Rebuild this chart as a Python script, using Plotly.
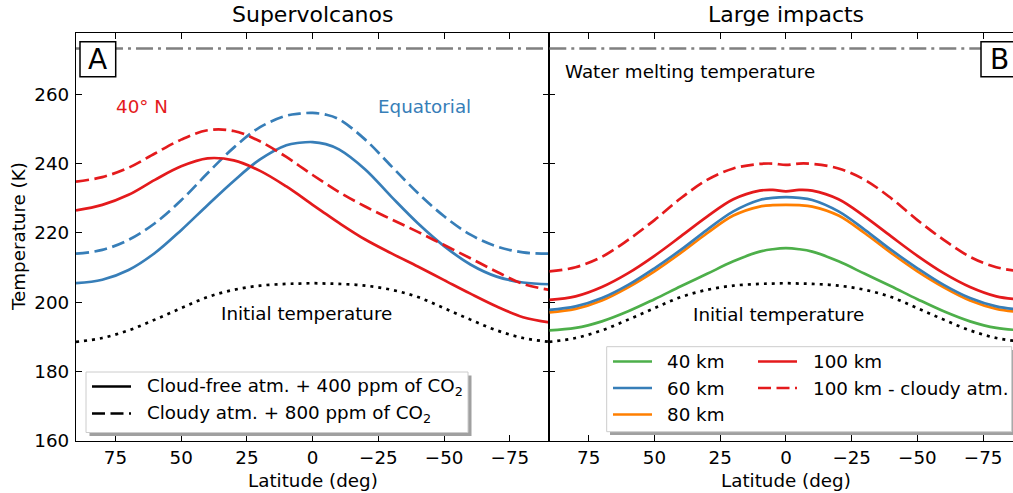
import plotly.graph_objects as go
from plotly.subplots import make_subplots

# ---------------- data ----------------
lat = [90, 80, 70, 60, 50, 40, 30, 20, 10, 5, 0, -5, -10, -20, -30, -40, -50, -60, -70, -80, -90]

initial_temp = [188.6, 189.7, 191.9, 195.0, 198.3, 201.5, 203.6, 204.8, 205.3, 205.4, 205.5,
                205.4, 205.3, 204.8, 203.6, 201.5, 198.3, 195.0, 191.9, 189.7, 188.6]

# Supervolcanos (panel A)
volc_40n_clear = [226.5, 228.1, 231.0, 235.3, 239.2, 241.5, 240.9, 237.9, 233.4, 230.8, 228.1,
                  225.5, 222.9, 218.1, 214.1, 210.3, 206.4, 202.5, 198.8, 195.7, 194.2]
volc_40n_cloudy = [234.8, 236.1, 238.8, 242.9, 246.9, 249.6, 249.4, 246.4, 241.9, 239.3, 236.7,
                   234.2, 231.8, 227.6, 223.9, 220.3, 216.5, 212.7, 208.8, 205.3, 203.6]
volc_eq_clear = [205.5, 206.5, 209.3, 214.2, 220.8, 228.0, 235.0, 241.2, 245.3, 246.0, 246.2,
                 245.6, 244.1, 238.3, 230.4, 222.8, 216.2, 210.9, 207.4, 205.7, 205.2]
volc_eq_cloudy = [214.0, 215.1, 218.0, 222.8, 229.4, 237.2, 244.6, 250.5, 253.8, 254.4, 254.6,
                  254.1, 252.8, 246.9, 239.2, 231.5, 224.8, 219.5, 216.1, 214.4, 214.0]

# Large impacts (panel B)
imp_40km = [191.9, 192.6, 194.5, 197.4, 200.9, 204.6, 208.2, 211.8, 214.6, 215.3, 215.6,
            215.3, 214.6, 211.8, 208.2, 204.6, 200.9, 197.4, 194.5, 192.6, 191.9]
imp_60km = [197.8, 198.8, 201.2, 205.0, 209.8, 215.1, 220.9, 226.2, 229.5, 230.1, 230.3,
            230.1, 229.5, 226.2, 220.9, 215.1, 209.8, 205.0, 201.2, 198.8, 197.8]
imp_80km = [197.1, 198.1, 200.5, 204.3, 208.9, 214.2, 219.9, 225.0, 227.6, 228.0, 228.1,
            228.0, 227.6, 225.0, 219.9, 214.2, 208.9, 204.3, 200.5, 198.1, 197.1]
imp_100km = [200.7, 201.7, 204.4, 208.4, 213.4, 219.0, 224.7, 229.7, 232.2, 232.4, 232.0,
             232.4, 232.2, 229.7, 224.7, 219.0, 213.4, 208.4, 204.4, 201.7, 200.7]
imp_100km_cloudy = [208.9, 210.1, 213.1, 218.0, 223.7, 230.0, 235.3, 238.6, 239.9, 240.0, 239.6,
                    240.0, 239.9, 238.6, 235.3, 230.0, 223.7, 218.0, 213.1, 210.1, 208.9]

melting_lat = [90, -90]
melting_temp = [273.15, 273.15]

x_ticks = [75, 50, 25, 0, -25, -50, -75]
y_ticks = [160, 180, 200, 220, 240, 260]

# ---------------- style ----------------
RED = "#e41a1c"
BLUE = "#377eb8"
GREEN = "#4daf4a"
ORANGE = "#ff7f00"
FONT = "DejaVu Sans"
FS = 18.3
LW = 2.7
DASH = "13px,5.5px"
DOT = "3px,5px"
DASHDOT = "17px,5px,3px,5px"

W, H = 1013, 493
L, R, T, B = 76, 0, 33, 52
PW, PH = W - L - R, H - T - B
split = (549.3 - L) / PW


def px(x):
    return (x - L) / PW


def py(y):
    return (H - B - y) / PH


fig = make_subplots(rows=1, cols=2, shared_yaxes=False, horizontal_spacing=0)


def add_line(x, y, color, dash, col, width=LW):
    fig.add_trace(go.Scatter(x=x, y=y, mode="lines", showlegend=False, hoverinfo="skip",
                             line=dict(color=color, width=width, dash=dash, shape="spline", smoothing=1.0)),
                  row=1, col=col)


# panel A
add_line(melting_lat, melting_temp, "#808080", DASHDOT, 1, 2.5)
add_line(lat, initial_temp, "black", DOT, 1)
add_line(lat, volc_eq_cloudy, BLUE, DASH, 1)
add_line(lat, volc_eq_clear, BLUE, "solid", 1)
add_line(lat, volc_40n_cloudy, RED, DASH, 1)
add_line(lat, volc_40n_clear, RED, "solid", 1)

# panel B
add_line(melting_lat, melting_temp, "#808080", DASHDOT, 2, 2.5)
add_line(lat, initial_temp, "black", DOT, 2)
add_line(lat, imp_40km, GREEN, "solid", 2)
add_line(lat, imp_80km, ORANGE, "solid", 2)
add_line(lat, imp_60km, BLUE, "solid", 2)
add_line(lat, imp_100km_cloudy, RED, DASH, 2)
add_line(lat, imp_100km, RED, "solid", 2)

axis_common = dict(showgrid=False, zeroline=False, showline=True, linecolor="black", linewidth=1.3,
                   ticks="inside", ticklen=6, tickwidth=1.2, tickcolor="black",
                   tickfont=dict(family=FONT, size=FS, color="black"))

yr = [160, 160 + PH * 100 / 346.8]

fig.update_layout(
    width=W, height=H, margin=dict(l=L, r=R, t=T, b=B),
    plot_bgcolor="white", paper_bgcolor="white", showlegend=False,
    font=dict(family=FONT, size=FS, color="black"),
    xaxis=dict(domain=[0, split], range=[90, -90], tickvals=x_ticks, mirror="ticks", **axis_common),
    xaxis2=dict(domain=[split, 1.0], range=[90, 90 - (W - R - 549.3) / (PW * split / 180)],
                tickvals=x_ticks, mirror="ticks", **axis_common),
    yaxis=dict(range=yr, tickvals=y_ticks, mirror="ticks", ticklabelstandoff=2, **axis_common),
    yaxis2=dict(range=yr, tickvals=y_ticks, showticklabels=False, mirror=False, **axis_common),
)

shapes = []
annos = []


def rect(x0, y0, x1, y1, fill, line_color, lw):
    shapes.append(dict(type="rect", xref="paper", yref="paper", x0=px(x0), x1=px(x1),
                       y0=py(y1), y1=py(y0), fillcolor=fill, layer="above",
                       line=dict(color=line_color, width=lw)))


def seg(x0, x1, y, color, dash):
    shapes.append(dict(type="line", xref="paper", yref="paper", x0=px(x0), x1=px(x1),
                       y0=py(y), y1=py(y), layer="above", line=dict(color=color, width=LW, dash=dash)))


def text(x, y, s, size=FS, color="black", xanchor="center", **kw):
    annos.append(dict(xref="paper", yref="paper", x=px(x), y=py(y), text=s, showarrow=False,
                      xanchor=xanchor, yanchor="middle", font=dict(family=FONT, size=size, color=color), **kw))


# panel labels
rect(80, 41.7, 115.7, 76.7, "white", "black", 1.5)
text(97.9, 60, "A", size=28)
rect(981, 41.7, 1018, 76.7, "white", "black", 1.5)
text(999.5, 60, "B", size=28)

# titles
text(312.6, 15, "Supervolcanos", size=22)
text(785.8, 15, "Large impacts", size=22)
text(313, 480, "Latitude (deg)")
text(785.8, 480, "Latitude (deg)")
text(18, 237, "Temperature (K)", textangle=-90)

# in-plot annotations
text(141.5, 106.5, "40° N", color=RED)
text(424.5, 106, "Equatorial", color=BLUE)
text(306, 313.5, "Initial temperature")
text(778, 314, "Initial temperature")
text(562.5, 71, "Water melting temperature", xanchor="left")

# legend A
rect(89.5, 375.5, 471.5, 436, "#a0a0a0", "#a0a0a0", 0)
rect(86, 372, 468, 432.5, "white", "#cccccc", 1)
seg(92, 131, 386.5, "black", "solid")
seg(92, 131, 413.5, "black", DASH)
text(145, 386.5, "Cloud-free atm. + 400 ppm of CO<sub>2</sub>", xanchor="left")
text(145, 413.5, "Cloudy atm. + 800 ppm of CO<sub>2</sub>", xanchor="left")

# legend B
rect(610, 350, 1016, 435, "#a0a0a0", "#a0a0a0", 0)
rect(606.7, 346.7, 1011.7, 431.7, "white", "#cccccc", 1)
seg(613, 652, 361.5, GREEN, "solid")
seg(613, 652, 388, BLUE, "solid")
seg(613, 652, 414.5, ORANGE, "solid")
seg(758, 797, 361.5, RED, "solid")
seg(758, 797, 388, RED, DASH)
text(665, 361.5, "40 km", xanchor="left")
text(665, 388, "60 km", xanchor="left")
text(665, 414.5, "80 km", xanchor="left")
text(811, 361.5, "100 km", xanchor="left")
text(811, 388, "100 km - cloudy atm.", xanchor="left")

fig.update_layout(shapes=shapes, annotations=annos)
fig.write_html("out.html", config={"displayModeBar": False},
               post_script="document.body.style.margin='0px';document.body.style.overflow='hidden';")
